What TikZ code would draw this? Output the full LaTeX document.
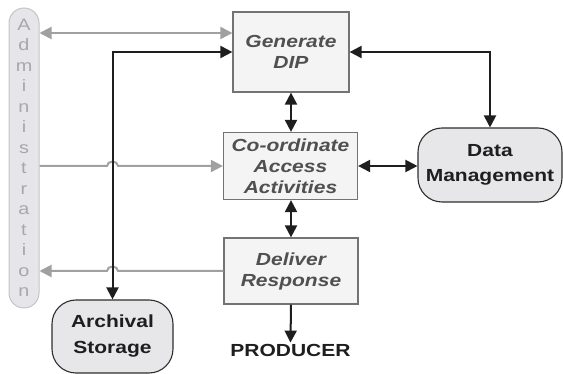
\documentclass[tikz,border=0pt]{standalone}
\usepackage{fontspec}
\setmainfont{Liberation Sans}
\newfontfamily\wfont[FakeStretch=1.2]{Liberation Sans}
\usetikzlibrary{arrows.meta,calc}
\definecolor{procfill}{HTML}{F4F4F4}
\definecolor{procdraw}{HTML}{737373}
\definecolor{proctext}{HTML}{505050}
\definecolor{entfill}{HTML}{E7E7E9}
\definecolor{entdraw}{HTML}{2E2E2E}
\definecolor{enttext}{HTML}{1E1E1E}
\definecolor{admfill}{HTML}{E6E6EA}
\definecolor{admdraw}{HTML}{C4C4C6}
\definecolor{admtext}{HTML}{A8A8AA}
\definecolor{blkline}{HTML}{1E1E1E}
\definecolor{gryline}{HTML}{A0A0A0}
\tikzset{
  proc/.style={rectangle, draw=procdraw, line width=1.2pt, fill=procfill,
    text=proctext, align=center, inner sep=2pt,
    font=\wfont\bfseries\itshape\fontsize{17.5}{21}\selectfont},
  ent/.style={rectangle, rounded corners=24pt, draw=entdraw, line width=1.1pt,
    fill=entfill, text=enttext, align=center, inner sep=2pt},
  adm/.style={rectangle, rounded corners=15pt, draw=admdraw, line width=1pt,
    fill=admfill, text=admtext, align=center, inner sep=0pt,
    font=\wfont\fontsize{16.5}{20.5}\selectfont},
  blk/.style={draw=blkline, line width=2pt},
  gry/.style={draw=gryline, line width=2pt}
}
\begin{document}
\begin{tikzpicture}[x=1pt,y=1pt]
\useasboundingbox (0,0) rectangle (563,-374);

\node[proc, minimum width=116, minimum height=80] (gen) at (291,-52) {Generate\\DIP};
\node[proc, minimum width=134, minimum height=67] (coord) at (290.5,-166) {Co-ordinate\\Access\\Activities};
\node[proc, minimum width=134, minimum height=66] (deliver) at (291,-271) {Deliver\\Response};
\node[ent, minimum width=144, minimum height=74,
  font=\wfont\bfseries\fontsize{17.5}{25}\selectfont] (dm) at (490,-165) {Data\\Management};
\node[ent, minimum width=121, minimum height=73,
  font=\wfont\bfseries\fontsize{17.5}{26}\selectfont] (arch) at (112.5,-336.5) {Archival\\Storage};
\node[adm, minimum width=30, minimum height=300] (admin) at (24,-158)
  {A\\d\\m\\i\\n\\i\\s\\t\\r\\a\\t\\i\\o\\n};
\node[anchor=base, text=enttext, inner sep=0pt,
  font=\wfont\bfseries\fontsize{17.5}{21}\selectfont] (prod) at (290.5,-357) {PRODUCER};

% grey connectors
\draw[gry, {Triangle[length=12pt,width=12pt]}-{Triangle[length=12pt,width=12pt]}]
  (admin.east |- 0,-33) -- (gen.west |- 0,-33);
\draw[gry, -{Triangle[length=12pt,width=12pt]}]
  (admin.east |- coord.west) -- ($(arch.north |- coord.west)+(-5.5,0)$)
  arc[start angle=180, end angle=0, x radius=5.5, y radius=4.5] -- (coord.west);
\draw[gry, -{Triangle[length=12pt,width=12pt]}]
  (deliver.west) -- ($(arch.north |- deliver.west)+(5.5,0)$)
  arc[start angle=0, end angle=180, x radius=5.5, y radius=4.5] -- (admin.east |- deliver.west);

% black connectors
\draw[blk, {Triangle[length=12pt,width=12pt]}-{Triangle[length=12pt,width=12pt]}]
  (gen.west) -| (arch.north);
\draw[blk, {Triangle[length=12pt,width=12pt]}-{Triangle[length=12pt,width=12pt]}]
  (gen.east) -| (dm.north);
\draw[blk, {Triangle[length=12pt,width=12pt]}-{Triangle[length=12pt,width=12pt]}]
  (gen.south) -- (gen.south |- coord.north);
\draw[blk, {Triangle[length=12pt,width=12pt]}-{Triangle[length=12pt,width=12pt]}]
  (coord.east) -- (dm.west |- coord.east);
\draw[blk, {Triangle[length=12pt,width=12pt]}-{Triangle[length=12pt,width=12pt]}]
  (coord.south -| deliver.north) -- (deliver.north);
\draw[blk, -{Triangle[length=12pt,width=12pt]}]
  (deliver.south) -- ($(prod.north)+(0,2)$);
\end{tikzpicture}
\end{document}
